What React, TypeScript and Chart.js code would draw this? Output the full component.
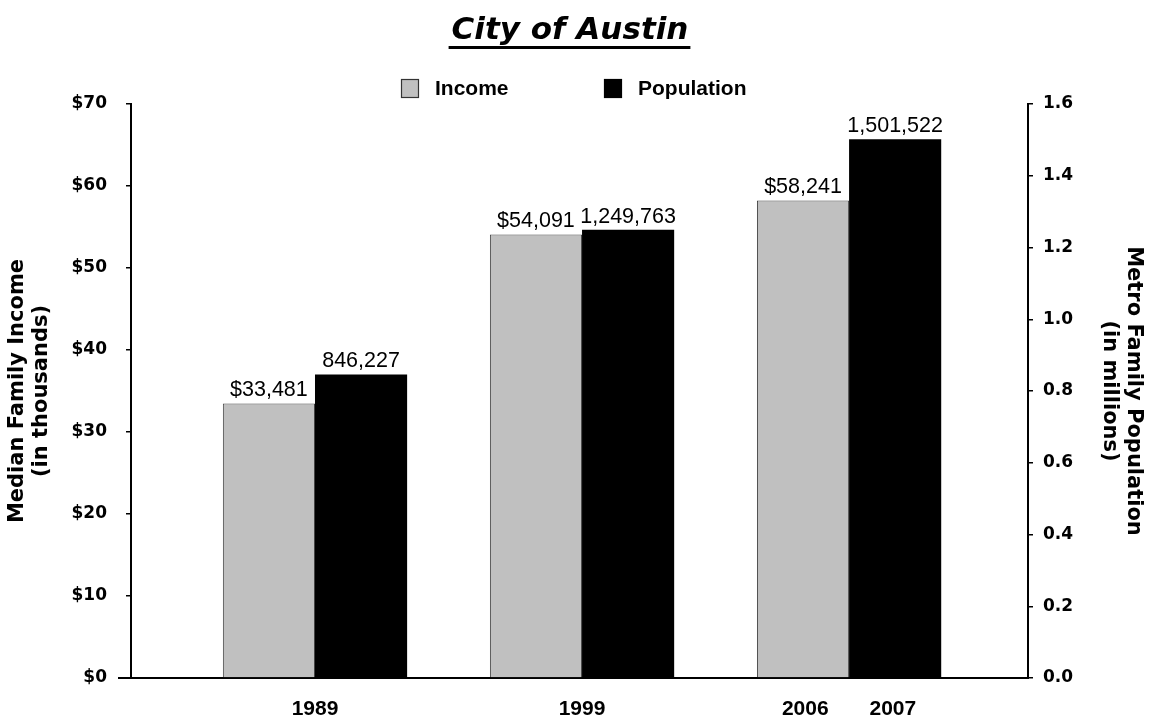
import { useEffect, useRef } from 'react';
import { Chart, registerables } from 'chart.js';

Chart.register(...registerables);

const chartTitle = 'City of Austin';
const xTickLabels = ['1989', '1999', '2006       2007'];
const seriesNames = ['Income', 'Population'];
const incomeDollars = [33481, 54091, 58241];
const populationPeople = [846227, 1249763, 1501522];
const incomeAxisTitle = ['Median Family Income', '(in thousands)'];
const populationAxisTitle = ['Metro Family Population', '(in millions)'];

const ARIAL = '"Liberation Sans", Arial, sans-serif';
const DEJAVU = '"DejaVu Sans", sans-serif';

const headerPlugin = {
  id: 'header',
  afterDraw(chart: any) {
    const ctx = chart.ctx as CanvasRenderingContext2D;
    ctx.save();
    // Title
    ctx.font = `italic bold 31px ${DEJAVU}`;
    ctx.fillStyle = '#000';
    ctx.textAlign = 'center';
    ctx.textBaseline = 'alphabetic';
    const cx = 570;
    ctx.fillText(chartTitle, cx, 39);
    const w = ctx.measureText(chartTitle).width;
    ctx.fillRect(cx - w / 2 - 3, 46, w + 5, 3);

    // Legend
    const items = chart.data.datasets.map((ds: any, i: number) => ({
      label: ds.label,
      fill: ds.backgroundColor,
      stroke: i === 0 ? '#333' : '#000',
    }));
    const boxX = [401, 604];
    ctx.font = `bold 21px ${ARIAL}`;
    ctx.textAlign = 'left';
    ctx.textBaseline = 'middle';
    items.forEach((it: any, i: number) => {
      ctx.fillStyle = it.fill;
      ctx.fillRect(boxX[i], 79, 17, 18);
      ctx.strokeStyle = it.stroke;
      ctx.lineWidth = 1.2;
      ctx.strokeRect(boxX[i] + 0.5, 79.5, 17, 18);
      ctx.fillStyle = '#000';
      ctx.fillText(it.label, boxX[i] + 34, 89);
    });

    // longer cross tick at the zero baseline of the left axis
    const yScale = chart.scales.y;
    const y0 = yScale.getPixelForValue(0);
    ctx.strokeStyle = '#000';
    ctx.lineWidth = 2;
    ctx.beginPath();
    ctx.moveTo(yScale.right - 13, y0);
    ctx.lineTo(yScale.right, y0);
    ctx.stroke();
    ctx.restore();
  },
};

const valueLabelPlugin = {
  id: 'valueLabels',
  afterDatasetsDraw(chart: any) {
    const ctx = chart.ctx as CanvasRenderingContext2D;
    ctx.save();
    ctx.font = `21.5px ${ARIAL}`;
    ctx.fillStyle = '#000';
    ctx.textAlign = 'center';
    ctx.textBaseline = 'alphabetic';
    chart.data.datasets.forEach((ds: any, di: number) => {
      const meta = chart.getDatasetMeta(di);
      meta.data.forEach((bar: any, i: number) => {
        const raw = ds.rawValues[i];
        const text = (di === 0 ? '$' : '') + raw.toLocaleString('en-US');
        ctx.fillText(text, bar.x, bar.y - 7);
      });
    });
    ctx.restore();
  },
};

export default function App() {
  const canvasRef = useRef<HTMLCanvasElement | null>(null);

  useEffect(() => {
    if (!canvasRef.current) return;
    const tickFont = { family: DEJAVU, size: 17, weight: 'bold' as const };
    const titleFont = { family: DEJAVU, size: 21, weight: 'bold' as const, lineHeight: 1.15 };
    const chart = new Chart(canvasRef.current, {
      type: 'bar',
      data: {
        datasets: [
          {
            label: seriesNames[0],
            data: incomeDollars.map((v, i) => ({ x: i + 1, y: v / 1000 })),
            rawValues: incomeDollars,
            backgroundColor: '#c0c0c0',
            borderColor: '#444',
            borderWidth: 1,
            yAxisID: 'y',
          } as any,
          {
            label: seriesNames[1],
            data: populationPeople.map((v, i) => ({ x: i + 1, y: v / 1e6 })),
            rawValues: populationPeople,
            backgroundColor: '#000',
            borderWidth: 0,
            yAxisID: 'y1',
          } as any,
        ],
      },
      options: {
        animation: false,
        responsive: true,
        maintainAspectRatio: false,
        layout: { padding: { top: 104, left: 0, right: 0, bottom: 0 } },
        datasets: { bar: { categoryPercentage: 0.69, barPercentage: 1.0 } },
        plugins: {
          legend: { display: false },
          title: { display: false },
          tooltip: { enabled: false },
        },
        scales: {
          x: {
            type: 'linear',
            offset: false,
            min: 0.311,
            max: 3.67,
            grid: { display: false, offset: false },
            border: { display: true, color: '#000', width: 2 },
            ticks: {
              font: { family: ARIAL, size: 21, weight: 'bold' },
              color: '#000',
              padding: 11,
              autoSkip: false,
              maxRotation: 0,
              callback: (v: any) => {
                const i = Math.round(Number(v)) - 1;
                return xTickLabels[i] ?? '';
              },
            },
            afterBuildTicks: (s: any) => {
              s.ticks = xTickLabels.map((_, i) => ({ value: i + 1 }));
            },
            afterFit: (s: any) => {
              s.height = 48;
            },
          },
          y: {
            position: 'left',
            min: 0,
            max: 70,
            ticks: {
              stepSize: 10,
              callback: (v: any) => '$' + v,
              font: tickFont,
              color: '#000',
              padding: 19,
            },
            grid: { drawOnChartArea: false, drawTicks: true, tickLength: 5, color: '#000', lineWidth: 1.5 },
            border: { display: true, color: '#000', width: 2 },
            title: {
              display: true,
              text: incomeAxisTitle,
              font: titleFont,
              color: '#000',
              padding: { top: 5, bottom: 0 },
            },
            afterFit: (s: any) => {
              s.width = 131;
            },
          },
          y1: {
            position: 'right',
            min: 0,
            max: 1.6,
            ticks: {
              stepSize: 0.2,
              callback: (v: any) => Number(v).toFixed(1),
              font: tickFont,
              color: '#000',
              padding: 10,
            },
            grid: { drawOnChartArea: false, drawTicks: true, tickLength: 5, color: '#000', lineWidth: 1.5 },
            border: { display: true, color: '#000', width: 2 },
            title: {
              display: true,
              text: populationAxisTitle,
              font: titleFont,
              color: '#000',
              padding: { top: 4, bottom: 0 },
            },
            afterFit: (s: any) => {
              s.width = 122;
            },
          },
        },
      } as any,
      plugins: [headerPlugin, valueLabelPlugin],
    });
    return () => chart.destroy();
  }, []);

  return (
    <div style={{ position: 'absolute', left: 0, top: 0, width: 1150, height: 726, background: '#fff' }}>
      <canvas ref={canvasRef} />
    </div>
  );
}
